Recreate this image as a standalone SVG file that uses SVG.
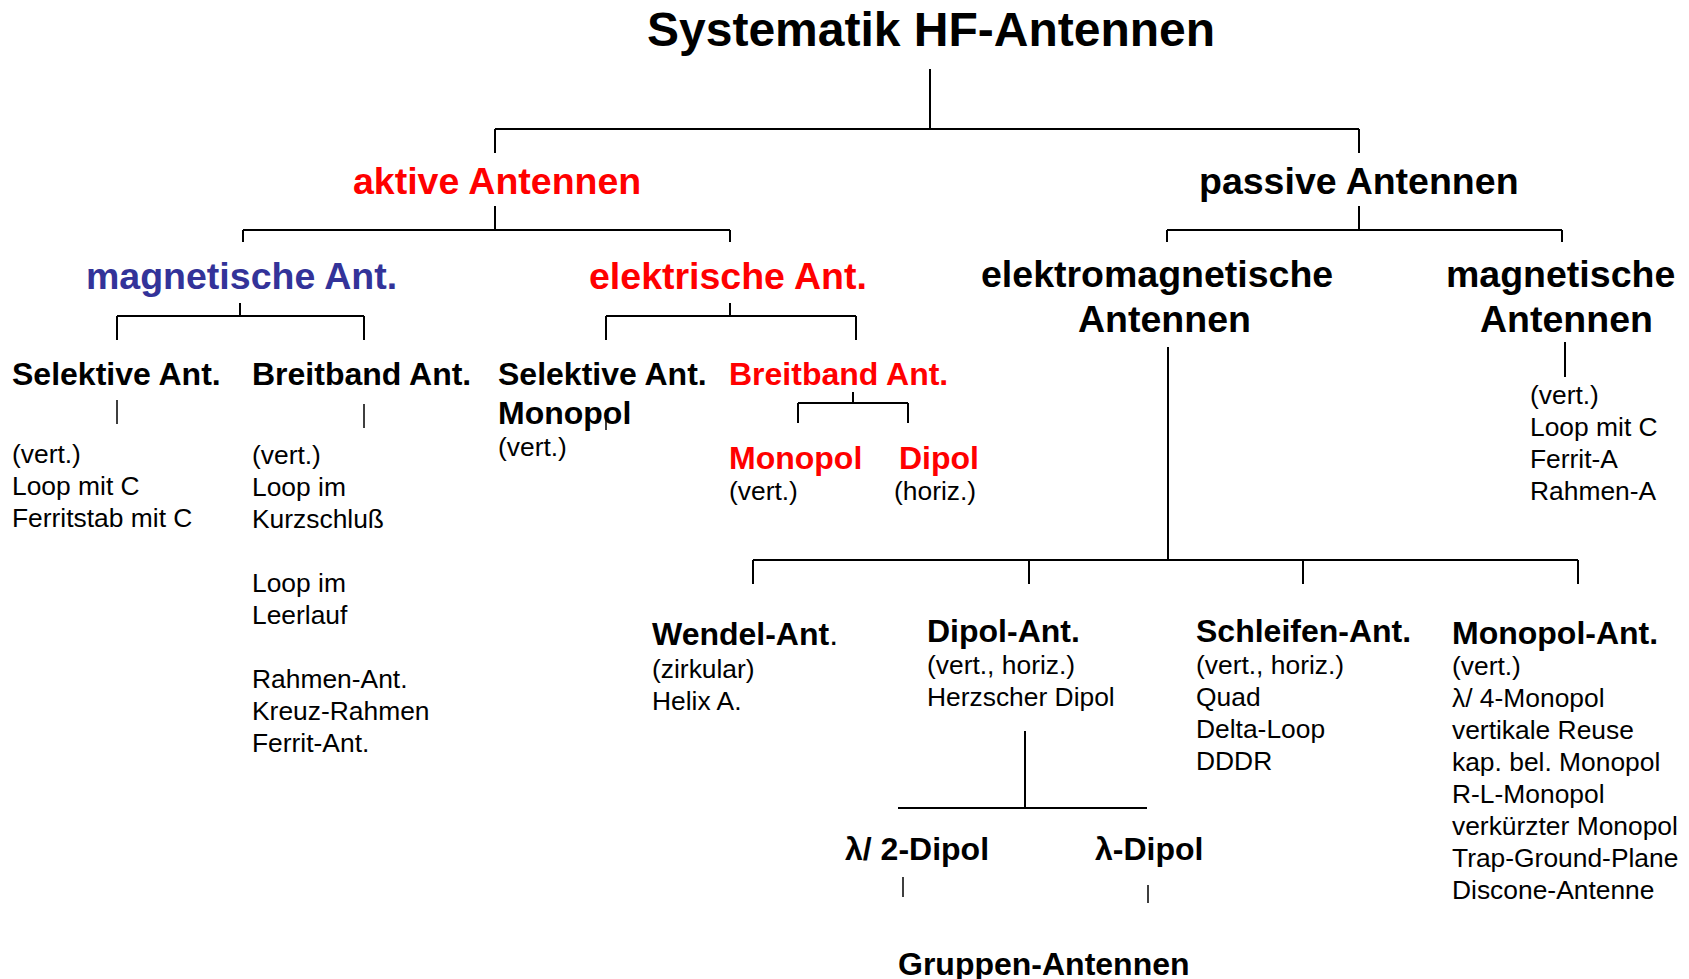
<svg xmlns="http://www.w3.org/2000/svg" width="1689" height="979" viewBox="0 0 1689 979">
<style>
text{font-family:"Liberation Sans",Arial,sans-serif;fill:#000}
.t{font-size:48px;font-weight:bold}
.h{font-size:37.5px;font-weight:bold}
.b{font-size:32px;font-weight:bold}
.r{font-size:26.4px}
.red{fill:#ff0000}
.blue{fill:#333399}
.c{fill:none;stroke:#000;stroke-width:2}
.ct{fill:none;stroke:#000;stroke-width:1.5}
</style>
<rect width="1689" height="979" fill="#fff"/>
<g id="connectors">
<path class="c" d="M930,69V129M495,129H1359M495,129V153M1359,129V153"/>
<path class="c" d="M495,206V230M243,230H730M243,230V242M730,230V242"/>
<path class="c" d="M1359,206V230M1167,230H1562M1167,230V242M1562,230V242"/>
<path class="c" d="M240,303V316M117,316H364M117,316V340M364,316V340"/>
<path class="c" d="M730,303V316M606,316H856M606,316V340M856,316V340"/>
<path class="ct" d="M117,400V424M364,404V428M606,410V430"/>
<path class="c" d="M853,392V403M798,403H908M798,403V423M908,403V423"/>
<path class="c" d="M1565,342V377"/>
<path class="c" d="M1168,347V560M753,560H1578M753,560V584M1029,560V584M1303,560V584M1578,560V584"/>
<path class="c" d="M1025,731V808M898,808H1147"/>
<path class="ct" d="M903,877V897M1148,885V903"/>
</g>
<g id="title"><text class="t" x="647" y="46">Systematik HF-Antennen</text></g>
<g id="aktive"><text class="h red" x="353" y="194">aktive Antennen</text></g>
<g id="passive"><text class="h" x="1199" y="194">passive Antennen</text></g>
<g id="akt-magnetisch"><text class="h blue" x="86" y="289">magnetische Ant.</text></g>
<g id="akt-elektrisch"><text class="h red" x="589" y="289">elektrische Ant.</text></g>
<g id="pas-elektromagnetisch"><text class="h" x="981" y="287">elektromagnetische</text><text class="h" x="1078" y="332">Antennen</text></g>
<g id="pas-magnetisch"><text class="h" x="1446" y="287">magnetische</text><text class="h" x="1480" y="332">Antennen</text></g>
<g id="mag-selektiv">
<text class="b" x="12" y="385">Selektive Ant.</text>
<text class="r" x="12" y="463">(vert.)</text>
<text class="r" x="12" y="495">Loop mit C</text>
<text class="r" x="12" y="527">Ferritstab mit C</text>
</g>
<g id="mag-breitband">
<text class="b" x="252" y="385">Breitband Ant.</text>
<text class="r" x="252" y="464">(vert.)</text>
<text class="r" x="252" y="496">Loop im</text>
<text class="r" x="252" y="528">Kurzschluß</text>
<text class="r" x="252" y="592">Loop im</text>
<text class="r" x="252" y="624">Leerlauf</text>
<text class="r" x="252" y="688">Rahmen-Ant.</text>
<text class="r" x="252" y="720">Kreuz-Rahmen</text>
<text class="r" x="252" y="752">Ferrit-Ant.</text>
</g>
<g id="el-selektiv">
<text class="b" x="498" y="385">Selektive Ant.</text>
<text class="b" x="498" y="424">Monopol</text>
<text class="r" x="498" y="456">(vert.)</text>
</g>
<g id="el-breitband"><text class="b red" x="729" y="385">Breitband Ant.</text></g>
<g id="el-monopol"><text class="b red" x="729" y="469">Monopol</text><text class="r" x="729" y="500">(vert.)</text></g>
<g id="el-dipol"><text class="b red" x="899" y="469">Dipol</text><text class="r" x="894" y="500">(horiz.)</text></g>
<g id="pas-mag-list">
<text class="r" x="1530" y="404">(vert.)</text>
<text class="r" x="1530" y="436">Loop mit C</text>
<text class="r" x="1530" y="468">Ferrit-A</text>
<text class="r" x="1530" y="500">Rahmen-A</text>
</g>
<g id="wendel">
<text class="b" x="652" y="645">Wendel-Ant<tspan font-weight="normal">.</tspan></text>
<text class="r" x="652" y="678">(zirkular)</text>
<text class="r" x="652" y="710">Helix A.</text>
</g>
<g id="dipol-ant">
<text class="b" x="927" y="642">Dipol-Ant.</text>
<text class="r" x="927" y="674">(vert., horiz.)</text>
<text class="r" x="927" y="706">Herzscher Dipol</text>
</g>
<g id="schleifen">
<text class="b" x="1196" y="642">Schleifen-Ant.</text>
<text class="r" x="1196" y="674">(vert., horiz.)</text>
<text class="r" x="1196" y="706">Quad</text>
<text class="r" x="1196" y="738">Delta-Loop</text>
<text class="r" x="1196" y="770">DDDR</text>
</g>
<g id="monopol-ant">
<text class="b" x="1452" y="644">Monopol-Ant.</text>
<text class="r" x="1452" y="675">(vert.)</text>
<text class="r" x="1452" y="707">λ/ 4-Monopol</text>
<text class="r" x="1452" y="739">vertikale Reuse</text>
<text class="r" x="1452" y="771">kap. bel. Monopol</text>
<text class="r" x="1452" y="803">R-L-Monopol</text>
<text class="r" x="1452" y="835">verkürzter Monopol</text>
<text class="r" x="1452" y="867">Trap-Ground-Plane</text>
<text class="r" x="1452" y="899">Discone-Antenne</text>
</g>
<g id="halbwellen"><text class="b" x="845" y="860">λ/ 2-Dipol</text></g>
<g id="lambda-dipol"><text class="b" x="1095" y="860">λ-Dipol</text></g>
<g id="gruppen"><text class="b" x="898" y="975">Gruppen-Antennen</text></g>
</svg>
